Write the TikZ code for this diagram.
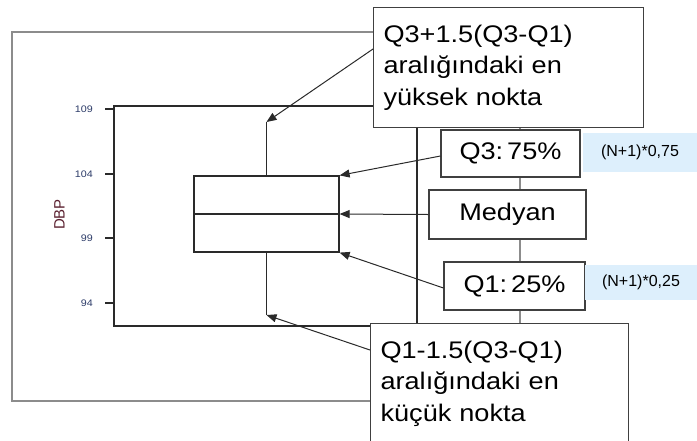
\documentclass[tikz,border=0pt]{standalone}
\usepackage{fontspec}
\setmainfont{Liberation Sans}[FakeStretch=1.13]
\newfontfamily\plainsans{Liberation Sans}
\usetikzlibrary{arrows.meta}
\definecolor{framegrey}{HTML}{8C8C8C}
\definecolor{plotdark}{HTML}{2A2A2A}
\definecolor{boxline}{HTML}{404040}
\definecolor{noteblue}{HTML}{DDEFFC}
\definecolor{tickblue}{HTML}{2B3A67}
\definecolor{dbpred}{HTML}{5A1F2E}
\begin{document}
\begin{tikzpicture}[x=1pt,y=-1pt,
  bigbox/.style={draw=boxline, line width=1.1pt, fill=white, inner xsep=10pt, inner ysep=0pt,
    align=left, font=\fontsize{24}{31.5}\selectfont, anchor=north west},
  smallbox/.style={draw=boxline, line width=1.1pt, fill=white, inner sep=0pt,
    font=\fontsize{24}{28}\selectfont},
  note/.style={fill=noteblue, inner sep=0pt, font=\plainsans\fontsize{16}{18}\selectfont},
  frame/.style={draw=framegrey, line width=1.3pt},
  plotline/.style={draw=plotdark, line width=1.2pt},
  pointer/.style={draw=plotdark, line width=1pt, -{Triangle[length=10pt,width=8pt]}},
  ticklabel/.style={font=\fontsize{9.5}{10}\selectfont, text=tickblue, anchor=east, inner sep=0pt}
]
\useasboundingbox (0,0) rectangle (697,440);

% outer frame
\draw[frame] (12,32) rectangle (520,401);
% inner plot frame
\draw[plotline] (114,106) rectangle (417,326);
% ticks and labels
\foreach \v/\y in {109/109,104/174,99/238,94/303} {
  \draw[plotline] (105,\y) -- (114,\y);
  \node[ticklabel] (t\v) at (93,\y) {\v};
}
\node[rotate=90, font=\plainsans\fontsize{15}{15}\selectfont, text=dbpred] (ylab) at (59.5,214.5) {DBP};

% box plot
\node[plotline, draw, minimum width=145, minimum height=76, inner sep=0pt] (iqr) at (266.5,214) {};
\draw[plotline] (iqr.west) -- (iqr.east);
\coordinate (wtop) at (266.5,122);
\coordinate (wbot) at (266.5,315);
\draw[plotline] (iqr.north) -- (wtop);
\draw[plotline] (iqr.south) -- (wbot);

% label boxes
\node[bigbox, minimum width=270, minimum height=120, text width=250pt] (top) at (373,7)
  {Q3+1.5(Q3-Q1)\\aralığındaki en\\yüksek nokta};
\node[bigbox, minimum width=258, minimum height=120, text width=238pt] (bot) at (370,323)
  {Q1-1.5(Q3-Q1)\\aralığındaki en\\küçük nokta};
\node[smallbox, minimum width=139, minimum height=47] (q3) at (510.5,153.5) {Q3:\hspace{4pt}75\%};
\node[smallbox, minimum width=157, minimum height=49] (med) at (507.5,214.5) {Medyan};
\node[smallbox, minimum width=141, minimum height=48] (q1) at (514.5,286) {Q1:\hspace{4pt}25\%};
\node[note, minimum width=114, minimum height=39] (n3) at (640,152.5) {(N+1)*0,75};
\node[note, minimum width=112, minimum height=35] (n1) at (641,282.5) {(N+1)*0,25};

% pointers
\draw[pointer] ([yshift=-42pt]top.north west) -- (wtop);
\draw[pointer] ([yshift=-2.5pt]q3.west) -- (iqr.north east);
\draw[pointer] (med.west) -- (iqr.east);
\draw[pointer] ([yshift=-2pt]q1.west) -- (iqr.south east);
\draw[pointer] ([yshift=-27pt]bot.north west) -- (wbot);
\end{tikzpicture}
\end{document}
